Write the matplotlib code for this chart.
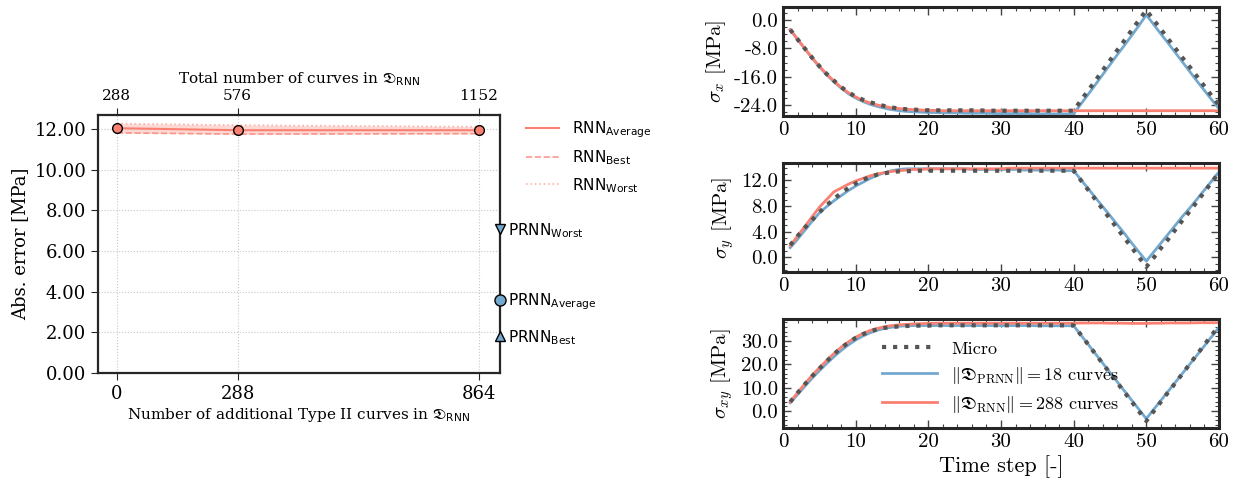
import numpy as np
import matplotlib
matplotlib.use('Agg')
from matplotlib import pyplot as plt
from matplotlib.ticker import MultipleLocator, AutoMinorLocator, FormatStrFormatter
from matplotlib.font_manager import FontProperties
import matplotlib.transforms as mtransforms

plt.rcParams['axes.unicode_minus'] = False

# ---- left panel data ----
add_curves = [0, 288, 864]
total_curves = [288, 576, 1152]
rnn_average = [12.05, 11.95, 11.95]
rnn_best = [11.82, 11.76, 11.78]
rnn_worst = [12.28, 12.20, 12.12]
prnn_worst = 7.08
prnn_average = 3.59
prnn_best = 1.82

# ---- right panels data (time steps 1..60) ----
time_step = np.arange(1, 61)

sx_micro = [-2.7, -5.4, -8.0, -10.6, -13.0, -15.2, -17.1, -18.9, -20.4, -21.6,
            -22.5, -23.2, -23.8, -24.3, -24.7, -25.0, -25.2, -25.3, -25.4, -25.5,
            -25.5, -25.5, -25.5, -25.5, -25.5, -25.5, -25.5, -25.6, -25.6, -25.6,
            -25.6, -25.6, -25.6, -25.6, -25.6, -25.6, -25.6, -25.6, -25.6, -25.6,
            -22.7, -19.9, -17.1, -14.2, -11.4, -8.5, -5.7, -2.8, 0.0, 2.8,
            0.1, -2.6, -5.3, -8.0, -10.7, -13.3, -16.0, -18.7, -21.4, -24.0]
sx_prnn = [-2.7, -5.4, -8.1, -10.7, -13.2, -15.4, -17.4, -19.2, -20.8, -22.0,
           -23.0, -23.8, -24.4, -24.9, -25.3, -25.6, -25.8, -25.9, -26.0, -26.1,
           -26.1, -26.2, -26.2, -26.2, -26.3, -26.3, -26.3, -26.3, -26.4, -26.4,
           -26.4, -26.4, -26.4, -26.4, -26.5, -26.5, -26.5, -26.5, -26.5, -26.5,
           -23.7, -21.0, -18.2, -15.4, -12.6, -9.8, -7.1, -4.3, -1.5, 1.5,
           -1.2, -3.9, -6.5, -9.2, -11.9, -14.6, -17.3, -19.9, -22.5, -25.0]
sx_rnn = [-2.7, -5.4, -8.0, -10.6, -13.0, -15.2, -17.2, -19.0, -20.5, -21.7,
          -22.7, -23.4, -24.0, -24.4, -24.8, -25.0, -25.2, -25.3, -25.4, -25.5,
          -25.5, -25.6, -25.6, -25.6, -25.6, -25.6, -25.6, -25.6, -25.6, -25.6,
          -25.6, -25.6, -25.6, -25.6, -25.6, -25.6, -25.6, -25.6, -25.6, -25.6,
          -25.6, -25.6, -25.6, -25.6, -25.6, -25.6, -25.6, -25.6, -25.6, -25.6,
          -25.6, -25.6, -25.6, -25.6, -25.6, -25.6, -25.6, -25.6, -25.6, -25.6]

sy_micro = [1.9, 3.3, 4.6, 5.8, 7.0, 8.1, 9.1, 10.0, 10.8, 11.5,
            12.1, 12.5, 12.9, 13.1, 13.3, 13.4, 13.4, 13.5, 13.5, 13.5,
            13.5, 13.5, 13.5, 13.5, 13.5, 13.5, 13.5, 13.5, 13.5, 13.5,
            13.5, 13.5, 13.5, 13.5, 13.5, 13.5, 13.5, 13.5, 13.5, 13.5,
            12.0, 10.5, 9.0, 7.5, 6.0, 4.5, 3.0, 1.5, 0.0, -1.5,
            -0.1, 1.4, 2.8, 4.3, 5.8, 7.2, 8.7, 10.2, 11.7, 13.2]
sy_prnn = [1.5, 2.8, 4.2, 5.6, 6.9, 7.9, 8.8, 9.6, 10.4, 11.1,
           11.7, 12.3, 12.8, 13.2, 13.5, 13.7, 13.8, 13.8, 13.8, 13.8,
           13.8, 13.8, 13.8, 13.8, 13.8, 13.7, 13.7, 13.7, 13.7, 13.7,
           13.7, 13.7, 13.6, 13.6, 13.6, 13.6, 13.6, 13.6, 13.5, 13.5,
           12.1, 10.7, 9.3, 7.9, 6.5, 5.1, 3.7, 2.2, 0.8, -0.6,
           0.8, 2.2, 3.6, 5.0, 6.4, 7.7, 9.1, 10.5, 11.9, 13.3]
sy_rnn = [1.8, 3.3, 4.8, 6.3, 7.8, 9.0, 10.2, 10.8, 11.4, 11.9,
          12.3, 12.7, 13.0, 13.2, 13.4, 13.5, 13.6, 13.7, 13.7, 13.8,
          13.8, 13.8, 13.8, 13.8, 13.8, 13.8, 13.8, 13.8, 13.8, 13.8,
          13.9, 13.9, 13.9, 13.9, 13.9, 13.9, 13.9, 13.9, 13.9, 13.9,
          13.9, 13.9, 13.9, 13.9, 13.9, 13.9, 13.9, 13.9, 13.9, 13.9,
          13.9, 13.9, 13.9, 13.9, 13.9, 13.9, 13.9, 13.9, 13.9, 13.9]

sxy_micro = [3.9, 7.7, 11.4, 14.9, 18.1, 21.3, 24.3, 27.0, 29.3, 31.3,
             32.9, 34.1, 35.0, 35.6, 36.0, 36.2, 36.4, 36.5, 36.6, 36.6,
             36.7, 36.7, 36.7, 36.7, 36.7, 36.7, 36.7, 36.7, 36.7, 36.7,
             36.7, 36.7, 36.7, 36.7, 36.7, 36.7, 36.7, 36.7, 36.7, 36.7,
             32.6, 28.5, 24.4, 20.3, 16.2, 12.1, 8.0, 3.9, -0.2, -4.3,
             -0.2, 3.9, 8.0, 12.0, 16.1, 20.2, 24.3, 28.4, 32.5, 36.5]
sxy_prnn = [3.5, 7.0, 10.5, 14.0, 17.2, 20.3, 23.2, 25.9, 28.3, 30.4,
            32.1, 33.5, 34.6, 35.4, 35.9, 36.3, 36.5, 36.6, 36.6, 36.6,
            36.6, 36.6, 36.6, 36.6, 36.6, 36.6, 36.6, 36.6, 36.6, 36.6,
            36.6, 36.6, 36.6, 36.6, 36.5, 36.5, 36.5, 36.5, 36.5, 36.5,
            32.5, 28.5, 24.5, 20.5, 16.5, 12.5, 8.5, 4.6, 0.6, -3.3,
            0.6, 4.5, 8.4, 12.3, 16.2, 20.1, 24.0, 27.9, 31.9, 35.8]
sxy_rnn = [3.9, 7.8, 11.6, 15.2, 18.5, 21.6, 24.6, 27.3, 29.6, 31.6,
           33.2, 34.5, 35.4, 36.1, 36.6, 36.9, 37.1, 37.3, 37.4, 37.5,
           37.6, 37.6, 37.6, 37.6, 37.6, 37.6, 37.6, 37.6, 37.6, 37.6,
           37.6, 37.6, 37.6, 37.6, 37.6, 37.6, 37.6, 37.6, 37.6, 37.6,
           37.7, 37.7, 37.7, 37.7, 37.6, 37.6, 37.6, 37.5, 37.5, 37.5,
           37.6, 37.6, 37.7, 37.7, 37.7, 37.7, 37.8, 37.8, 37.8, 37.8]

SALMON = '#fa8072'
BLUE = '#74a9cf'
MICRO = '#555555'
SPINE = '#262626'


def left_panel(fig):
    ax = fig.add_axes([0.0787, 0.2403, 0.3229, 0.5255])
    ax.fill_between(add_curves, rnn_best, rnn_worst, color=SALMON, alpha=0.3, lw=0)
    ax.plot(add_curves, rnn_average, '-', color=SALMON, lw=1.5, label=r'RNN$_{\mathrm{Average}}$')
    ax.plot(add_curves, rnn_best, '--', color=SALMON, lw=1.2, alpha=0.8, label=r'RNN$_{\mathrm{Best}}$')
    ax.plot(add_curves, rnn_worst, ':', color=SALMON, lw=1.2, alpha=0.6, label=r'RNN$_{\mathrm{Worst}}$')
    ax.plot(add_curves, rnn_average, 'o', color=SALMON, mec='k', mew=1.0, ms=7, zorder=4)

    ax.set_xlim(-45, 914)
    ax.set_ylim(0, 12.7)
    ax.set_xticks(add_curves)
    ax.set_yticks([0, 2, 4, 6, 8, 10, 12])
    ax.yaxis.set_major_formatter(FormatStrFormatter('%.2f'))
    ax.grid(True, ls=':', color='#c8c8c8', lw=0.8)
    for s in ax.spines.values():
        s.set_color(SPINE)
        s.set_linewidth(1.6)
    ax.tick_params(labelsize=13, length=5, color=SPINE)
    for lab in ax.get_xticklabels() + ax.get_yticklabels():
        lab.set_fontfamily('DejaVu Serif')
    ax.set_ylabel('Abs. error [MPa]', fontsize=13, fontfamily='DejaVu Serif')
    ax.set_xlabel(r'Number of additional Type II curves in $\mathfrak{D}_{\mathrm{RNN}}$',
                  fontsize=11, fontfamily='DejaVu Serif', labelpad=2)

    top = ax.twiny()
    top.set_xlim(ax.get_xlim())
    top.set_xticks(add_curves)
    top.set_xticklabels([str(v) for v in total_curves])
    top.tick_params(labelsize=11, length=5, color=SPINE)
    for lab in top.get_xticklabels():
        lab.set_fontfamily('DejaVu Serif')
    top.set_xlabel(r'Total number of curves in $\mathfrak{D}_{\mathrm{RNN}}$',
                   fontsize=11, fontfamily='DejaVu Serif', labelpad=4)
    for s in top.spines.values():
        s.set_visible(False)

    # PRNN results sit on the right spine
    trans = mtransforms.blended_transform_factory(ax.transAxes, ax.transData)
    prnn = [(prnn_worst, 'v', r'PRNN$_{\mathrm{Worst}}$'),
            (prnn_average, 'o', r'PRNN$_{\mathrm{Average}}$'),
            (prnn_best, '^', r'PRNN$_{\mathrm{Best}}$')]
    for val, mk, lab in prnn:
        ax.plot(1.0, val, mk, color=BLUE, mec='k', mew=1.0, ms=8 if mk == 'o' else 7,
                transform=trans, clip_on=False, zorder=5)
        ax.annotate(lab, xy=(1.0, val), xycoords=trans, xytext=(6, -1),
                    textcoords='offset points', va='center', ha='left', fontsize=11)

    ax.legend(loc='upper left', bbox_to_anchor=(1.03, 1.035), frameon=False,
              fontsize=11, handlelength=2.2, labelspacing=0.55)
    return ax


def right_panel(fig, rect, micro, prnn, rnn, ylim, step, ylabel, xlabel=None, legend=False):
    ax = fig.add_axes(rect)
    ax.plot(time_step, prnn, '-', color=BLUE, lw=2, label=r'$\|\mathfrak{D}_{\mathrm{PRNN}}\| = 18$ curves')
    ax.plot(time_step, rnn, '-', color=SALMON, lw=2, label=r'$\|\mathfrak{D}_{\mathrm{RNN}}\| = 288$ curves')
    ax.plot(time_step, micro, ':', color=MICRO, lw=3, label='Micro', zorder=3)
    ax.set_xlim(0, 60)
    ax.set_ylim(*ylim)
    ax.xaxis.set_major_locator(MultipleLocator(10))
    ax.xaxis.set_minor_locator(MultipleLocator(2))
    ax.yaxis.set_major_locator(MultipleLocator(step))
    ax.yaxis.set_minor_locator(AutoMinorLocator())
    ax.yaxis.set_major_formatter(FormatStrFormatter('%.1f'))
    ax.tick_params(which='both', direction='in', top=True, right=True, color='#444444')
    ax.tick_params(which='major', length=6, width=1.0, labelsize=15)
    ax.tick_params(which='minor', length=3, width=0.8)
    for lab in ax.get_xticklabels() + ax.get_yticklabels():
        lab.set_fontfamily('cmr10')
    for s in ax.spines.values():
        s.set_color(SPINE)
        s.set_linewidth(2.2)
    ax.set_ylabel(ylabel, fontsize=15, fontfamily='cmr10', math_fontfamily='cm', labelpad=4)
    if xlabel:
        ax.set_xlabel(xlabel, fontsize=16, fontfamily='cmr10', labelpad=3)
    if legend:
        h, l = ax.get_legend_handles_labels()
        order = [2, 0, 1]
        ax.legend([h[i] for i in order], [l[i] for i in order], loc='center',
                  bbox_to_anchor=(0.5, 0.46), frameon=False, handlelength=3.0,
                  labelspacing=0.45,
                  prop=FontProperties(family='cmr10', size=13, math_fontfamily='cm'))
    return ax


def main():
    fig = plt.figure(figsize=(12.45, 4.91), dpi=100)
    left_panel(fig)
    right_panel(fig, [0.6289, 0.7637, 0.3502, 0.2220], sx_micro, sx_prnn, sx_rnn,
                (-27.1, 3.7), 8, r'$\sigma_x$ [MPa]')
    right_panel(fig, [0.6289, 0.4460, 0.3502, 0.2220], sy_micro, sy_prnn, sy_rnn,
                (-2.3, 14.7), 4, r'$\sigma_y$ [MPa]')
    right_panel(fig, [0.6289, 0.1283, 0.3502, 0.2220], sxy_micro, sxy_prnn, sxy_rnn,
                (-7.3, 39.4), 10, r'$\sigma_{xy}$ [MPa]', xlabel='Time step [-]', legend=True)
    fig.savefig('out.png', dpi=100)


if __name__ == '__main__':
    main()
